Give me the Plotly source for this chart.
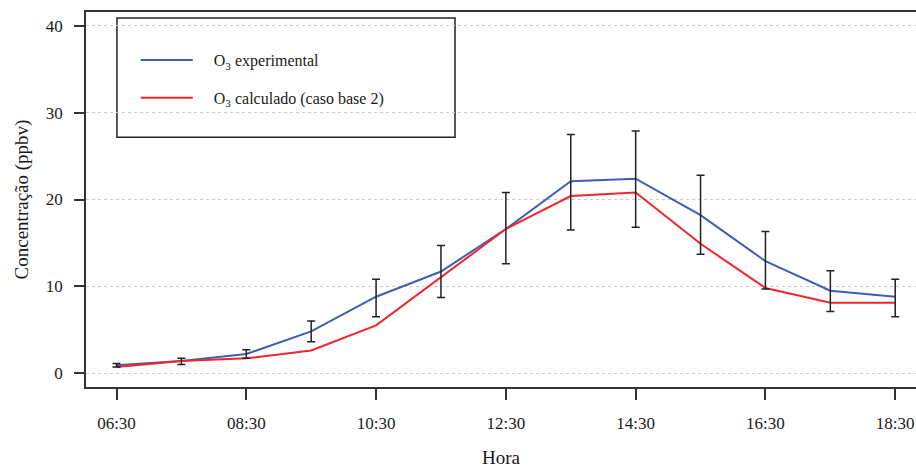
import plotly.graph_objects as go

hours = list(range(13))
time_labels = ["06:30", "07:30", "08:30", "09:30", "10:30", "11:30", "12:30",
               "13:30", "14:30", "15:30", "16:30", "17:30", "18:30"]
o3_exp = [0.9, 1.4, 2.2, 4.8, 8.8, 11.7, 16.6, 22.1, 22.4, 18.2, 12.9, 9.5, 8.8]
o3_calc = [0.7, 1.4, 1.7, 2.6, 5.5, 11.0, 16.6, 20.4, 20.8, 14.9, 9.8, 8.1, 8.1]
err_top = [1.1, 1.7, 2.7, 6.0, 10.8, 14.7, 20.8, 27.5, 27.9, 22.8, 16.3, 11.8, 10.8]
err_bot = [0.7, 1.0, 1.7, 3.6, 6.5, 8.7, 12.6, 16.5, 16.8, 13.7, 9.7, 7.1, 6.5]
tick_idx = [0, 2, 4, 6, 8, 10, 12]

FONT = "Liberation Serif"
TXT = "#1a1a1a"
PAD = "\u00a0" * 4
plus = [t - v for t, v in zip(err_top, o3_exp)]
minus = [v - b for v, b in zip(o3_exp, err_bot)]

fig = go.Figure()
fig.add_trace(go.Scatter(
    x=hours, y=o3_exp, mode="lines", name=PAD + "O<sub>3</sub> experimental",
    line=dict(color="#3F5DB8", width=2), legendgroup="a",
))
fig.add_trace(go.Scatter(
    x=hours, y=o3_calc, mode="lines", name=PAD + "O<sub>3</sub> calculado (caso base 2)",
    line=dict(color="#F2252B", width=2), legendgroup="b",
))
fig.add_trace(go.Scatter(
    x=hours, y=o3_exp, mode="markers", showlegend=False,
    marker=dict(size=1, opacity=0),
    error_y=dict(type="data", symmetric=False, array=plus, arrayminus=minus,
                 color="#222222", thickness=1.5, width=4),
))

fig.add_shape(type="rect", xref="paper", yref="paper",
              x0=0.0373, x1=0.4446, y0=0.6658, y1=0.984,
              line=dict(color="#222222", width=1.5), fillcolor="white", layer="below")

fig.update_layout(
    width=916, height=468,
    margin=dict(l=86, r=0, t=12, b=79),
    plot_bgcolor="white", paper_bgcolor="white",
    font=dict(family=FONT, size=16, color=TXT),
    showlegend=True,
    legend=dict(x=0.060, y=0.917, xanchor="left", yanchor="top",
                bgcolor="rgba(0,0,0,0)", borderwidth=0, itemwidth=52,
                tracegroupgap=14, font=dict(family=FONT, size=16, color=TXT)),
    xaxis=dict(
        range=[-0.47, 12.32], tickmode="array",
        tickvals=[hours[i] for i in tick_idx],
        ticktext=[time_labels[i] for i in tick_idx],
        showgrid=False, zeroline=False,
        showline=True, linecolor="#333333", linewidth=1.5, mirror=True,
        ticks="outside", ticklen=11, tickwidth=1.5, tickcolor="#333333",
        ticklabelstandoff=9,
        tickfont=dict(family=FONT, size=17, color=TXT),
        title=dict(text="Hora", font=dict(family=FONT, size=19, color=TXT), standoff=22),
    ),
    yaxis=dict(
        range=[-1.6, 41.6], tickvals=[0, 10, 20, 30, 40],
        showgrid=True, gridcolor="#CCCCCC", griddash="dot", gridwidth=1,
        zeroline=False,
        showline=True, linecolor="#333333", linewidth=1.5,
        ticks="outside", ticklen=10, tickwidth=1.5, tickcolor="#333333",
        ticklabelstandoff=8,
        tickfont=dict(family=FONT, size=17, color=TXT),
        title=dict(text="Concentração (ppbv)", font=dict(family=FONT, size=19, color=TXT), standoff=12),
    ),
)

fig.write_html("out.html")
